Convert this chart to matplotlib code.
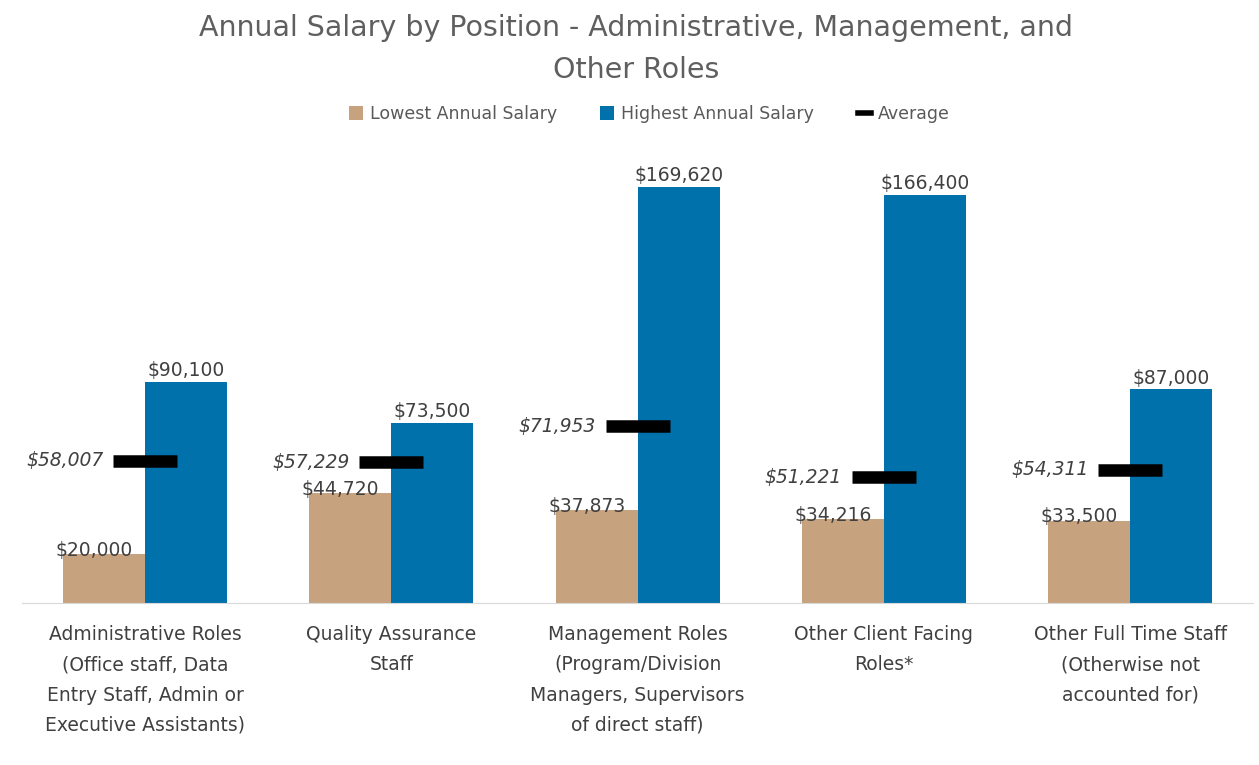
import matplotlib.pyplot as plt
from matplotlib.lines import Line2D
import numpy as np

categories = [
    "Administrative Roles\n(Office staff, Data\nEntry Staff, Admin or\nExecutive Assistants)",
    "Quality Assurance\nStaff",
    "Management Roles\n(Program/Division\nManagers, Supervisors\nof direct staff)",
    "Other Client Facing\nRoles*",
    "Other Full Time Staff\n(Otherwise not\naccounted for)",
]
lowest = [20000, 44720, 37873, 34216, 33500]
highest = [90100, 73500, 169620, 166400, 87000]
average = [58007, 57229, 71953, 51221, 54311]

TAN = "#C6A27E"
BLUE = "#0071AB"
TEXT = "#404040"
FONT = "DejaVu Sans"


def money(v):
    return "${:,.0f}".format(v)


def main():
    plt.rcParams['font.family'] = [FONT]
    fig = plt.figure(figsize=(12.59, 7.65), dpi=100)
    ax = fig.add_axes([0.0175, 0.212, 0.978, 0.577])

    x = np.arange(len(categories))
    w = 0.333
    b1 = ax.bar(x - w / 2, lowest, w, color=TAN)
    b2 = ax.bar(x + w / 2, highest, w, color=BLUE)
    ax.hlines(average, x - 0.13, x + 0.13, color="black", lw=9)

    for i in range(len(x)):
        ax.text(x[i] - w / 2 - 0.04, lowest[i] + 1500, money(lowest[i]),
                ha="center", va="center", fontsize=13.5, color=TEXT)
        ax.text(x[i] + w / 2, highest[i] + 800, money(highest[i]),
                ha="center", va="bottom", fontsize=13.5, color=TEXT)
        ax.text(x[i] - 0.17, average[i], money(average[i]),
                ha="right", va="center", fontsize=13.5, color=TEXT, style="italic")

    ax.set_xlim(-0.5, 4.5)
    ax.set_ylim(0, 180000)
    ax.set_xticks(x)
    ax.set_xticklabels(categories, fontsize=13.5, color=TEXT, linespacing=1.75)
    ax.tick_params(axis="x", length=0, pad=16)
    ax.set_yticks([])
    for s in ["top", "left", "right"]:
        ax.spines[s].set_visible(False)
    ax.spines["bottom"].set_color("#D9D9D9")

    fig.text(0.505, 1 - 49 / 765, "Annual Salary by Position - Administrative, Management, and\nOther Roles",
             ha="center", va="center", fontsize=20.5, color="#5F5F5F", linespacing=1.6)

    avg_handle = Line2D([], [], color="black", lw=4)
    fig.legend([b1, b2, avg_handle], ["Lowest Annual Salary", "Highest Annual Salary", "Average"],
               loc="center", bbox_to_anchor=(0.516, 1 - 114 / 765), ncol=3, frameon=False,
               fontsize=12.5, labelcolor="#595959", handlelength=0.8, handleheight=0.8,
               columnspacing=2.5, handletextpad=0.4)

    fig.savefig("out.png", dpi=100)


if __name__ == "__main__":
    main()
